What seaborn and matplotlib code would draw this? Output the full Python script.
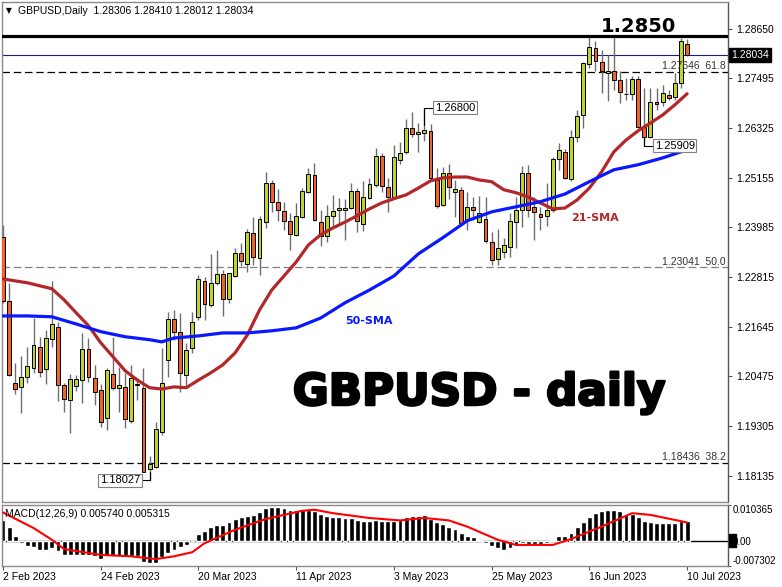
import numpy as np
import pandas as pd
import matplotlib
matplotlib.use('Agg')
import matplotlib.pyplot as plt
import matplotlib.transforms as mtransforms
import matplotlib.patheffects as pe
import seaborn as sns

# daily candles, 2 Feb 2023 .. 10 Jul 2023 (113 bars)
opens = [
    1.2376, 1.2225, 1.2032, 1.2023, 1.2047, 1.2068, 1.2117, 1.2065, 1.2136, 1.2164,
    1.2028, 1.1993, 1.2025, 1.2040, 1.2112, 1.2044, 1.2016, 1.1950, 1.2054, 1.2021,
    1.2023, 1.1943, 1.2028, 1.2021, 1.1830, 1.1835, 1.1917, 1.2087, 1.2183, 1.2153,
    1.2051, 1.2115, 1.2188, 1.2273, 1.2216, 1.2268, 1.2289, 1.2230, 1.2284, 1.2338,
    1.2313, 1.2385, 1.2327, 1.2412, 1.2503, 1.2459, 1.2437, 1.2414, 1.2381, 1.2423,
    1.2482, 1.2522, 1.2412, 1.2378, 1.2426, 1.2440, 1.2440, 1.2444, 1.2484, 1.2407,
    1.2468, 1.2499, 1.2567, 1.2494, 1.2470, 1.2557, 1.2576, 1.2633, 1.2619, 1.2621,
    1.2626, 1.2510, 1.2451, 1.2527, 1.2482, 1.2487, 1.2416, 1.2447, 1.2412, 1.2419,
    1.2364, 1.2324, 1.2341, 1.2353, 1.2412, 1.2440, 1.2527, 1.2447, 1.2430, 1.2426,
    1.2440, 1.2560, 1.2576, 1.2513, 1.2611, 1.2663, 1.2784, 1.2821, 1.2788, 1.2762,
    1.2767, 1.2746, 1.2713, 1.2713, 1.2748, 1.2635, 1.2611, 1.2694, 1.2694, 1.2710,
    1.2706, 1.2739, 1.28306]
highs = [
    1.2404, 1.2268, 1.2079, 1.2096, 1.2117, 1.2185, 1.2141, 1.2157, 1.2273, 1.2176,
    1.2032, 1.2054, 1.2051, 1.2150, 1.2138, 1.2075, 1.2030, 1.2068, 1.2141, 1.2070,
    1.2056, 1.2075, 1.2044, 1.2068, 1.1861, 1.1941, 1.2115, 1.2200, 1.2204, 1.2197,
    1.2127, 1.2200, 1.2287, 1.2282, 1.2336, 1.2346, 1.2298, 1.2291, 1.2350, 1.2362,
    1.2395, 1.2423, 1.2426, 1.2529, 1.2510, 1.2489, 1.2459, 1.2433, 1.2456, 1.2492,
    1.2539, 1.2550, 1.2440, 1.2451, 1.2475, 1.2468, 1.2466, 1.2503, 1.2492, 1.2508,
    1.2515, 1.2586, 1.2574, 1.2515, 1.2593, 1.2600, 1.2654, 1.2670, 1.2644, 1.2680,
    1.2642, 1.2539, 1.2541, 1.2548, 1.2510, 1.2494, 1.2482, 1.2470, 1.2473, 1.2470,
    1.2388, 1.2395, 1.2374, 1.2433, 1.2470, 1.2543, 1.2546, 1.2470, 1.2447, 1.2503,
    1.2564, 1.2597, 1.2583, 1.2628, 1.2675, 1.2788, 1.2847, 1.2837, 1.2816, 1.2805,
    1.2847, 1.2767, 1.2750, 1.2755, 1.2755, 1.2727, 1.2727, 1.2727, 1.2734, 1.2722,
    1.2762, 1.2845, 1.28410]
lows = [
    1.2221, 1.2049, 1.2007, 1.1962, 1.2032, 1.2056, 1.2047, 1.2030, 1.2117, 1.1990,
    1.1964, 1.1915, 1.2014, 1.1985, 1.2035, 1.1981, 1.1929, 1.1922, 1.2016, 1.1964,
    1.1927, 1.1938, 1.1993, 1.1823, 1.18027, 1.1832, 1.1910, 1.2047, 1.2134, 1.2011,
    1.2025, 1.2103, 1.2181, 1.2181, 1.2211, 1.2263, 1.2190, 1.2221, 1.2282, 1.2308,
    1.2294, 1.2310, 1.2287, 1.2397, 1.2435, 1.2414, 1.2393, 1.2346, 1.2378, 1.2421,
    1.2480, 1.2414, 1.2355, 1.2364, 1.2397, 1.2404, 1.2369, 1.2442, 1.2388, 1.2390,
    1.2466, 1.2494, 1.2482, 1.2435, 1.2468, 1.2548, 1.2571, 1.2611, 1.2576, 1.2602,
    1.2510, 1.2444, 1.2449, 1.2466, 1.2423, 1.2407, 1.2393, 1.2416, 1.2409, 1.2362,
    1.2310, 1.2310, 1.2327, 1.2329, 1.2350, 1.2400, 1.2423, 1.2369, 1.2393, 1.2402,
    1.2435, 1.2534, 1.2513, 1.2508, 1.2600, 1.2633, 1.2774, 1.2767, 1.2715, 1.2696,
    1.2722, 1.2692, 1.2699, 1.2699, 1.2633, 1.25909, 1.2609, 1.2675, 1.2684, 1.2699,
    1.2699, 1.2727, 1.28012]
closes = [
    1.2225, 1.2051, 1.2018, 1.2047, 1.2072, 1.2122, 1.2058, 1.2138, 1.2171, 1.2028,
    1.1995, 1.2042, 1.2042, 1.2112, 1.2047, 1.2011, 1.1941, 1.2063, 1.2021, 1.2028,
    1.1948, 1.2044, 1.2030, 1.1823, 1.1842, 1.1924, 1.2032, 1.2183, 1.2153, 1.2056,
    1.2110, 1.2176, 1.2277, 1.2218, 1.2268, 1.2289, 1.2230, 1.2291, 1.2338, 1.2320,
    1.2388, 1.2329, 1.2419, 1.2503, 1.2459, 1.2440, 1.2414, 1.2383, 1.2426, 1.2484,
    1.2524, 1.2416, 1.2378, 1.2426, 1.2437, 1.2444, 1.2444, 1.2484, 1.2414, 1.2470,
    1.2501, 1.2567, 1.2496, 1.2470, 1.2564, 1.2574, 1.2633, 1.2619, 1.2623, 1.2628,
    1.2515, 1.2449, 1.2527, 1.2494, 1.2489, 1.2409, 1.2447, 1.2440, 1.2433, 1.2367,
    1.2322, 1.2350, 1.2357, 1.2414, 1.2440, 1.2527, 1.2440, 1.2435, 1.2423, 1.2440,
    1.2560, 1.2581, 1.2515, 1.2611, 1.2661, 1.2786, 1.2823, 1.2790, 1.2767, 1.2767,
    1.2746, 1.2717, 1.2713, 1.2748, 1.2635, 1.2611, 1.2694, 1.2689, 1.2715, 1.2703,
    1.2739, 1.2837, 1.28034]

# moving averages (bar index, price)
sma21_bars = [0, 4, 8] + list(range(10, 113, 2))
sma21 = [1.2277, 1.2268, 1.2254, 1.2228, 1.2197, 1.2167, 1.2127, 1.2094, 1.2061, 1.2039,
         1.2021, 1.2018, 1.2023, 1.2021, 1.2039, 1.2056, 1.2075, 1.2103, 1.2145, 1.2204,
         1.2251, 1.2284, 1.2317, 1.2357, 1.2381, 1.2397, 1.2411, 1.2426, 1.2442, 1.2456,
         1.2466, 1.2475, 1.2491, 1.2508, 1.2515, 1.2517, 1.2517, 1.2510, 1.2506, 1.2487,
         1.2480, 1.2470, 1.2456, 1.2442, 1.2444, 1.2463, 1.2491, 1.2529, 1.2576, 1.2604,
         1.2626, 1.2644, 1.2663, 1.2687, 1.2713]
sma50_bars = [0, 4, 8, 12, 16, 20, 24, 26, 28, 32, 36, 40, 44, 48, 52, 56, 60, 64, 68, 72,
              76, 80, 84, 88, 92, 96, 100, 104, 108, 112]
sma50 = [1.2190, 1.2190, 1.2188, 1.2171, 1.2153, 1.2141, 1.2134, 1.2129, 1.2138, 1.2143,
         1.2150, 1.2150, 1.2155, 1.2162, 1.2185, 1.2221, 1.2251, 1.2284, 1.2336, 1.2374,
         1.2414, 1.2435, 1.2447, 1.2459, 1.2477, 1.2506, 1.2534, 1.2546, 1.2562, 1.2581]

# MACD(12,26,9)
macd_hist = [
    0.0061, 0.0039, 0.0014, -0.0005, -0.0014, -0.0019, -0.0028, -0.0028, -0.0021, -0.0029,
    -0.0041, -0.0042, -0.0042, -0.0041, -0.0042, -0.0045, -0.0052, -0.0045, -0.0045, -0.0045,
    -0.0047, -0.0045, -0.0045, -0.0060, -0.0065, -0.0065, -0.0048, -0.0036, -0.0026, -0.0019,
    -0.0012, -0.0002, 0.0019, 0.0027, 0.0039, 0.0046, 0.0046, 0.0053, 0.0063, 0.0069,
    0.0073, 0.0075, 0.0083, 0.0095, 0.0097, 0.0097, 0.0095, 0.0088, 0.0088, 0.0090,
    0.0090, 0.0085, 0.0077, 0.0072, 0.0070, 0.0068, 0.0066, 0.0066, 0.0059, 0.0058,
    0.0058, 0.0059, 0.0058, 0.0058, 0.0058, 0.0061, 0.0070, 0.0072, 0.0072, 0.0075,
    0.0063, 0.0053, 0.0049, 0.0041, 0.0034, 0.0022, 0.0015, 0.0011, 0.0003, -0.0007,
    -0.0016, -0.0021, -0.0026, -0.0021, -0.0014, -0.0007, -0.0009, -0.0009, -0.0009, -0.0007,
    0.0001, 0.0015, 0.0015, 0.0024, 0.0039, 0.0054, 0.0070, 0.0080, 0.0087, 0.0090,
    0.0088, 0.0085, 0.0078, 0.0078, 0.0069, 0.0056, 0.0053, 0.0051, 0.0051, 0.0051,
    0.0051, 0.0056, 0.00574]
signal_bars = [0, 5, 8, 10, 16, 21, 25, 28, 31, 33, 38, 43, 49, 51, 54, 60, 65, 69, 73, 76,
               81, 84, 90, 93, 98, 103, 106, 112]
signal = [0.0082, 0.0037, 0.0003, -0.0024, -0.0041, -0.0045, -0.0053, -0.0045, -0.0033, -0.0007,
          0.0032, 0.0063, 0.0087, 0.0090, 0.0080, 0.0066, 0.0059, 0.0066, 0.0059, 0.0041,
          0.0003, -0.0012, -0.0012, 0.0005, 0.0041, 0.0080, 0.0075, 0.005315]

price_ticks = [1.28650, 1.27495, 1.26325, 1.25155, 1.23985, 1.22815, 1.21645, 1.20475, 1.19305, 1.18135]
date_ticks = [0, 16, 32, 48, 64, 80, 96, 112]
date_labels = ['2 Feb 2023', '24 Feb 2023', '20 Mar 2023', '11 Apr 2023', '3 May 2023',
               '25 May 2023', '16 Jun 2023', '10 Jul 2023']
fibo_levels = [1.27646, 1.23041, 1.18436]
fibo_names = ['61.8', '50.0', '38.2']
resistance = 1.2850
last_close = 1.28034

GREEN = '#bcd332'
ORANGE = '#f0622a'
FRAME = '#8a8a8a'

sns.set_style('white')
plt.rcParams['font.family'] = ['Liberation Sans', 'DejaVu Sans']
plt.rcParams['text.color'] = 'black'
plt.rcParams['xtick.labelcolor'] = 'black'
plt.rcParams['ytick.labelcolor'] = 'black'

df = pd.DataFrame({'open': opens, 'high': highs, 'low': lows, 'close': closes})
df['bar'] = np.arange(len(df))
up = df['close'] >= df['open']

fig = plt.figure(figsize=(7.82, 5.87), dpi=100)
W, H = 782, 587
ax = fig.add_axes([2 / W, 1 - 502 / H, 726 / W, 500 / H])
axm = fig.add_axes([2 / W, 1 - 566 / H, 726 / W, 61 / H])

# candles
ax.vlines(df['bar'], df['low'], df['high'], color='#6e6e6e', lw=1, zorder=2)
ax.bar(df['bar'], (df['close'] - df['open']).abs(), bottom=df[['open', 'close']].min(axis=1),
       width=0.64, color=np.where(up, GREEN, ORANGE), edgecolor='black', linewidth=0.7, zorder=3)

sns.lineplot(x=sma21_bars, y=sma21, ax=ax, color='#b3272a', lw=2.3, zorder=4)
sns.lineplot(x=sma50_bars, y=sma50, ax=ax, color='#0a18ff', lw=2.3, zorder=4)

# levels
ax.axhline(resistance, color='black', lw=2.3, zorder=5)
ax.axhline(last_close, color='#1c1c8a', lw=0.8, zorder=1)
blend = mtransforms.blended_transform_factory(ax.transAxes, ax.transData)
for lvl, name, col in zip(fibo_levels, fibo_names, ['black', '#808080', 'black']):
    ax.axhline(lvl, color=col, lw=0.9, linestyle=(0, (6, 3)), zorder=1)
    ax.text(0.997, lvl + 0.0002, f'{lvl:.5f}  {name}', transform=blend, ha='right', va='bottom',
            fontsize=7.5, color='#333333')

# high / low callouts
box = dict(boxstyle='square,pad=0.15', facecolor='white', edgecolor='#808080', lw=0.8)
ax.plot([69, 69, 70.4], [1.2640, 1.2680, 1.2680], color='black', lw=0.8, zorder=5)
ax.text(70.7, 1.2680, '1.26800', fontsize=8, va='center', ha='left', bbox=box, zorder=6)
ax.plot([105, 105, 106.4], [1.2609, 1.25909, 1.25909], color='black', lw=0.8, zorder=5)
ax.text(106.7, 1.25909, '1.25909', fontsize=8, va='center', ha='left', bbox=box, zorder=6)
ax.plot([24, 24, 22.8], [1.1823, 1.18027, 1.18027], color='black', lw=0.8, zorder=5)
ax.text(22.5, 1.18027, '1.18027', fontsize=8, va='center', ha='right', bbox=box, zorder=6)

# text
ax.text(0.0096, 0.982, '▼', transform=ax.transAxes, fontsize=5.5, va='center', ha='center',
        family='DejaVu Sans')
ax.text(0.022, 0.982, 'GBPUSD,Daily  1.28306 1.28410 1.28012 1.28034', transform=ax.transAxes,
        fontsize=7.5, va='center', ha='left')
ax.text(0.876, 0.94, '1.2850', transform=ax.transAxes, fontsize=14, fontweight='bold',
        family='DejaVu Sans', ha='center', va='baseline', color='black')
ax.text(0.657, 0.194, 'GBPUSD - daily', transform=ax.transAxes, fontsize=31.5, fontweight='bold',
        family='DejaVu Sans', ha='center', va='baseline', color='black', zorder=7,
        path_effects=[pe.withStroke(linewidth=1.8, foreground='black')])
ax.text(0.5055, 0.356, '50-SMA', transform=ax.transAxes, fontsize=8, fontweight='bold',
        family='DejaVu Sans', color='#0a18ff', ha='center', va='baseline')
ax.text(0.817, 0.562, '21-SMA', transform=ax.transAxes, fontsize=8, fontweight='bold',
        family='DejaVu Sans', color='#b3272a', ha='center', va='baseline')
ax.text(1.004, last_close, f'{last_close:.5f}', transform=blend, fontsize=7.5, color='white',
        va='center', ha='left', bbox=dict(boxstyle='square,pad=0.2', facecolor='black', edgecolor='black'))

ax.set_xlim(-0.16, 118.7)
ax.set_ylim(1.1752, 1.2929)
ax.yaxis.tick_right()
ax.set_yticks(price_ticks)
ax.set_yticklabels([f'{t:.5f}' for t in price_ticks])
ax.tick_params(axis='y', right=True, length=3, width=0.8, pad=3, labelsize=7.5, color='#555555')
ax.tick_params(axis='x', bottom=False, labelbottom=False)
ax.set_xlabel('')
ax.set_ylabel('')

# MACD panel
axm.bar(df['bar'], macd_hist, width=0.8, color='black', zorder=2)
sns.lineplot(x=signal_bars, y=signal, ax=axm, color='#ff0000', lw=1.5, zorder=3)
axm.axhline(0, color='black', lw=1, zorder=1)
axm.set_xlim(-0.16, 118.7)
axm.set_ylim(-0.007302, 0.010365)
axm.yaxis.tick_right()
axm.set_yticks([0.010365, 0, -0.007302])
axm.set_yticklabels(['0.010365', '0.00', '-0.007302'])
axm.tick_params(axis='y', right=True, length=2, width=0.8, pad=1, labelsize=7, color='#555555')
ylab = axm.get_yticklabels()
ylab[0].set_va('top')
ylab[2].set_va('bottom')
axm.set_xticks(date_ticks)
axm.set_xticklabels(date_labels)
axm.tick_params(axis='x', bottom=True, length=3, width=0.8, pad=1.5, labelsize=7.5, color='#555555')
for lbl in axm.get_xticklabels():
    lbl.set_horizontalalignment('left')
axm.text(0.004, 0.852, 'MACD(12,26,9) 0.005740 0.005315', transform=axm.transAxes,
         fontsize=7.5, va='center', ha='left')
axm.set_xlabel('')
axm.set_ylabel('')

for a in (ax, axm):
    for s in a.spines.values():
        s.set_color(FRAME)
        s.set_linewidth(1)
    a.spines['right'].set_color('#555555')

fig.add_artist(plt.Rectangle((729 / W, 40 / H), 7 / W, 13 / H, transform=fig.transFigure,
                             color='black', zorder=5))

fig.savefig('out.png', dpi=100)
